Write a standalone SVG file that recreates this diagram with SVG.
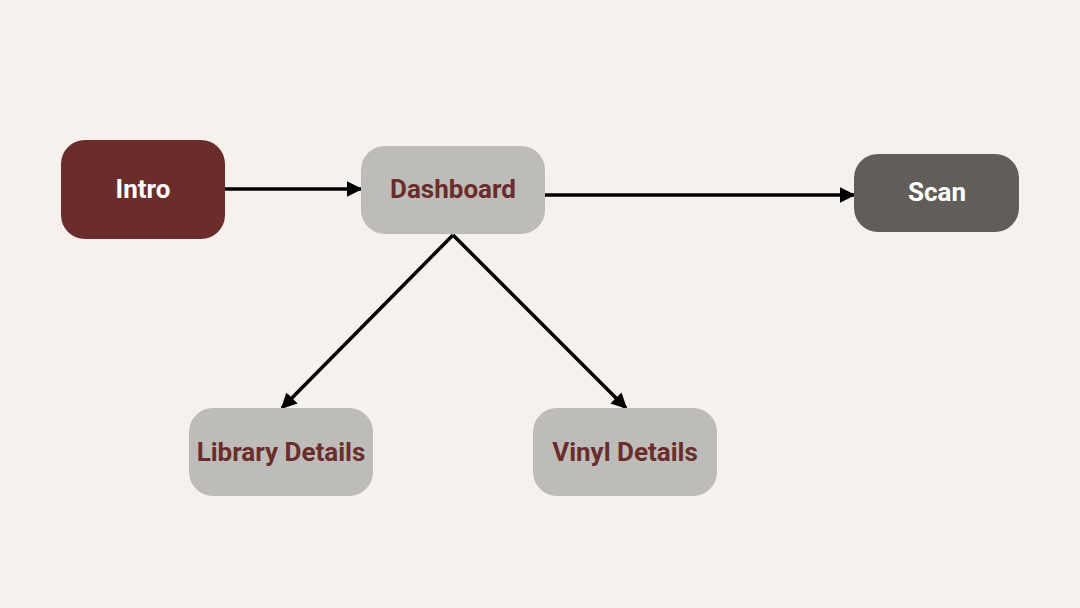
<svg xmlns="http://www.w3.org/2000/svg" width="1080" height="608" viewBox="0 0 1080 608">
<defs>
<style>
.lbl{font-family:Roboto,"Liberation Sans",sans-serif;font-weight:700;font-size:26px;text-anchor:middle;dominant-baseline:central}
.w{fill:#FFFFFF}
.r{fill:#6B2D2C}
.edge{stroke:#000;stroke-width:3.5;fill:none;marker-end:url(#ah)}
</style>
<marker id="ah" viewBox="0 0 10 10" refX="9" refY="5" markerWidth="4.5" markerHeight="4.5" orient="auto" markerUnits="strokeWidth">
<path d="M0,0 L10,5 L0,10 z" fill="#000"/>
</marker>
</defs>
<rect width="1080" height="608" fill="#F6F1ED"/>
<g id="connectors">
<line class="edge" x1="225" y1="189" x2="361" y2="189"/>
<line class="edge" x1="545" y1="195" x2="854" y2="195"/>
<line class="edge" x1="453" y1="235" x2="282" y2="408"/>
<line class="edge" x1="453" y1="235" x2="626" y2="408"/>
</g>
<g id="intro">
<rect x="61" y="140" width="164" height="99" rx="24" fill="#6B2D2C"/>
<text class="lbl w" x="143" y="189">Intro</text>
</g>
<g id="dashboard">
<rect x="361" y="146" width="184" height="88" rx="24" fill="#BEBCB8"/>
<text class="lbl r" x="453" y="189">Dashboard</text>
</g>
<g id="scan">
<rect x="854" y="154" width="165" height="78" rx="24" fill="#615E59"/>
<text class="lbl w" x="937" y="192">Scan</text>
</g>
<g id="library">
<rect x="189" y="408" width="184" height="88" rx="24" fill="#BEBCB8"/>
<text class="lbl r" x="281" y="452">Library Details</text>
</g>
<g id="vinyl">
<rect x="533" y="408" width="184" height="88" rx="24" fill="#BEBCB8"/>
<text class="lbl r" x="625" y="452">Vinyl Details</text>
</g>
</svg>
